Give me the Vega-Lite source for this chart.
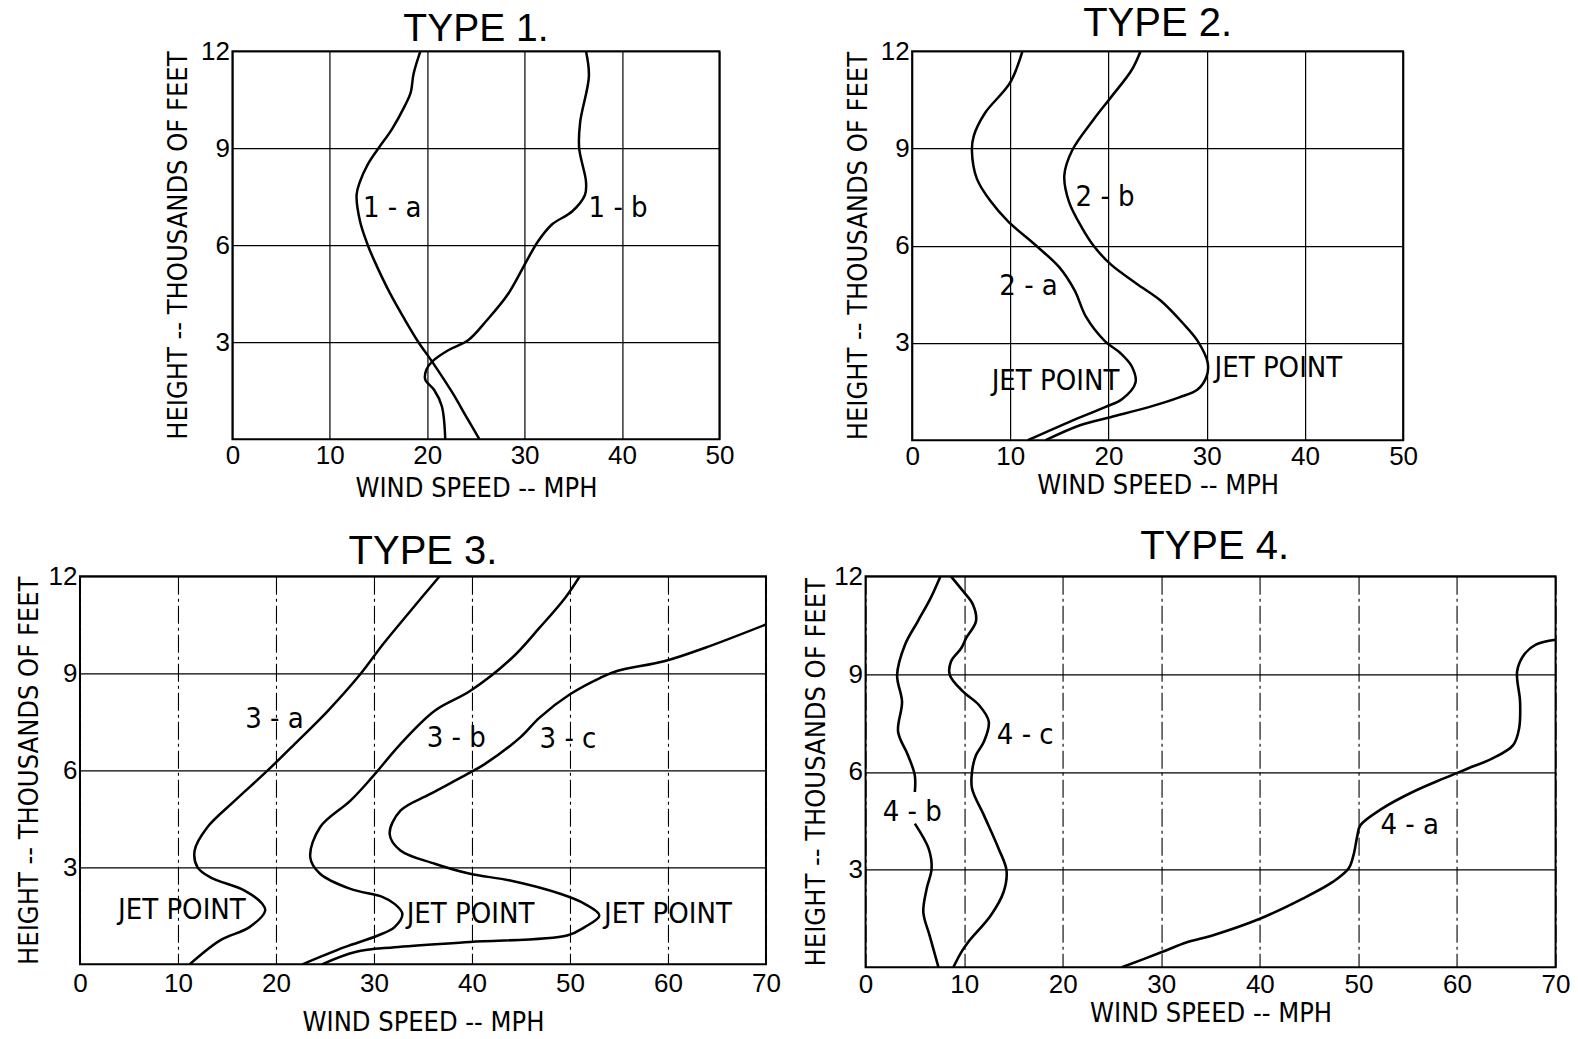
{
"$schema":"https://vega.github.io/schema/vega-lite/v6.json",
"background":"white",
"padding":{"left":13.5,"top":3.2,"right":5,"bottom":0},
"center":true,
"spacing":22.1,
"datasets":{
"curves":[
{"panel":1,"curve":"1-a","height":0,"speed":25.35},{"panel":1,"curve":"1-a","height":0.7,"speed":24.0},{"panel":1,"curve":"1-a","height":1.43,"speed":22.6},{"panel":1,"curve":"1-a","height":2.4,"speed":20.5},{"panel":1,"curve":"1-a","height":3,"speed":19.1},{"panel":1,"curve":"1-a","height":3.75,"speed":17.6},{"panel":1,"curve":"1-a","height":4.5,"speed":16.2},{"panel":1,"curve":"1-a","height":5.5,"speed":14.6},{"panel":1,"curve":"1-a","height":6,"speed":13.9},{"panel":1,"curve":"1-a","height":6.74,"speed":13.1},{"panel":1,"curve":"1-a","height":7.56,"speed":12.75},{"panel":1,"curve":"1-a","height":7.97,"speed":13.1},{"panel":1,"curve":"1-a","height":8.5,"speed":13.9},{"panel":1,"curve":"1-a","height":9,"speed":15.0},{"panel":1,"curve":"1-a","height":9.6,"speed":16.4},{"panel":1,"curve":"1-a","height":10.31,"speed":17.7},{"panel":1,"curve":"1-a","height":10.72,"speed":18.3},{"panel":1,"curve":"1-a","height":11.3,"speed":18.6},{"panel":1,"curve":"1-a","height":12,"speed":19.3},
{"panel":1,"curve":"1-b","height":0,"speed":21.85},{"panel":1,"curve":"1-b","height":1.02,"speed":21.5},{"panel":1,"curve":"1-b","height":1.53,"speed":20.7},{"panel":1,"curve":"1-b","height":1.84,"speed":19.8},{"panel":1,"curve":"1-b","height":2.14,"speed":19.9},{"panel":1,"curve":"1-b","height":2.4,"speed":20.5},{"panel":1,"curve":"1-b","height":2.76,"speed":22.2},{"panel":1,"curve":"1-b","height":3.06,"speed":24.2},{"panel":1,"curve":"1-b","height":3.67,"speed":26.1},{"panel":1,"curve":"1-b","height":4.49,"speed":28.3},{"panel":1,"curve":"1-b","height":5.51,"speed":30.2},{"panel":1,"curve":"1-b","height":6.13,"speed":31.4},{"panel":1,"curve":"1-b","height":6.64,"speed":32.8},{"panel":1,"curve":"1-b","height":7.05,"speed":34.9},{"panel":1,"curve":"1-b","height":7.56,"speed":36.2},{"panel":1,"curve":"1-b","height":7.97,"speed":36.3},{"panel":1,"curve":"1-b","height":9,"speed":35.6},{"panel":1,"curve":"1-b","height":9.8,"speed":35.7},{"panel":1,"curve":"1-b","height":11.23,"speed":36.6},{"panel":1,"curve":"1-b","height":12,"speed":36.3},
{"panel":2,"curve":"2-a","height":0,"speed":11.78},{"panel":2,"curve":"2-a","height":0.56,"speed":15.97},{"panel":2,"curve":"2-a","height":1.02,"speed":19.65},{"panel":2,"curve":"2-a","height":1.27,"speed":21.4},{"panel":2,"curve":"2-a","height":1.78,"speed":22.75},{"panel":2,"curve":"2-a","height":2.28,"speed":22.36},{"panel":2,"curve":"2-a","height":2.69,"speed":21.2},{"panel":2,"curve":"2-a","height":3.05,"speed":19.65},{"panel":2,"curve":"2-a","height":3.81,"speed":17.7},{"panel":2,"curve":"2-a","height":4.62,"speed":16.55},{"panel":2,"curve":"2-a","height":5.33,"speed":15.0},{"panel":2,"curve":"2-a","height":5.99,"speed":12.67},{"panel":2,"curve":"2-a","height":6.75,"speed":9.77},{"panel":2,"curve":"2-a","height":7.36,"speed":8.02},{"panel":2,"curve":"2-a","height":8.07,"speed":6.59},{"panel":2,"curve":"2-a","height":8.93,"speed":6.09},{"panel":2,"curve":"2-a","height":9.39,"speed":6.28},{"panel":2,"curve":"2-a","height":10.1,"speed":7.44},{"panel":2,"curve":"2-a","height":11.02,"speed":9.96},{"panel":2,"curve":"2-a","height":12,"speed":11.24},
{"panel":2,"curve":"2-b","height":0,"speed":13.6},{"panel":2,"curve":"2-b","height":0.46,"speed":17.1},{"panel":2,"curve":"2-b","height":0.71,"speed":20.2},{"panel":2,"curve":"2-b","height":1.02,"speed":24.1},{"panel":2,"curve":"2-b","height":1.32,"speed":27.2},{"panel":2,"curve":"2-b","height":1.57,"speed":29.1},{"panel":2,"curve":"2-b","height":1.98,"speed":30.0},{"panel":2,"curve":"2-b","height":2.39,"speed":30.1},{"panel":2,"curve":"2-b","height":3.05,"speed":29.1},{"panel":2,"curve":"2-b","height":3.6,"speed":27.6},{"panel":2,"curve":"2-b","height":4.31,"speed":25.3},{"panel":2,"curve":"2-b","height":4.82,"speed":22.9},{"panel":2,"curve":"2-b","height":5.43,"speed":20.2},{"panel":2,"curve":"2-b","height":5.99,"speed":18.5},{"panel":2,"curve":"2-b","height":6.55,"speed":17.3},{"panel":2,"curve":"2-b","height":7.36,"speed":15.97},{"panel":2,"curve":"2-b","height":8.17,"speed":15.5},{"panel":2,"curve":"2-b","height":8.93,"speed":16.28},{"panel":2,"curve":"2-b","height":9.9,"speed":18.5},{"panel":2,"curve":"2-b","height":10.56,"speed":20.2},{"panel":2,"curve":"2-b","height":11.42,"speed":22.36},{"panel":2,"curve":"2-b","height":12,"speed":23.26},
{"panel":3,"curve":"3-a","height":0,"speed":11.2},{"panel":3,"curve":"3-a","height":0.74,"speed":14.3},{"panel":3,"curve":"3-a","height":1.15,"speed":17.3},{"panel":3,"curve":"3-a","height":1.66,"speed":18.9},{"panel":3,"curve":"3-a","height":1.87,"speed":18.6},{"panel":3,"curve":"3-a","height":2.28,"speed":16.8},{"panel":3,"curve":"3-a","height":2.69,"speed":13.3},{"panel":3,"curve":"3-a","height":3.0,"speed":12.0},{"panel":3,"curve":"3-a","height":3.52,"speed":11.7},{"panel":3,"curve":"3-a","height":4.24,"speed":13.0},{"panel":3,"curve":"3-a","height":5.06,"speed":15.8},{"panel":3,"curve":"3-a","height":5.98,"speed":19.1},{"panel":3,"curve":"3-a","height":6.81,"speed":21.9},{"panel":3,"curve":"3-a","height":7.84,"speed":25.3},{"panel":3,"curve":"3-a","height":8.97,"speed":28.6},{"panel":3,"curve":"3-a","height":9.89,"speed":30.9},{"panel":3,"curve":"3-a","height":10.92,"speed":33.7},{"panel":3,"curve":"3-a","height":12,"speed":36.7},
{"panel":3,"curve":"3-b","height":0,"speed":22.7},{"panel":3,"curve":"3-b","height":0.53,"speed":27.0},{"panel":3,"curve":"3-b","height":0.89,"speed":30.4},{"panel":3,"curve":"3-b","height":1.15,"speed":32.1},{"panel":3,"curve":"3-b","height":1.56,"speed":32.9},{"panel":3,"curve":"3-b","height":1.87,"speed":32.1},{"panel":3,"curve":"3-b","height":2.08,"speed":30.9},{"panel":3,"curve":"3-b","height":2.33,"speed":27.6},{"panel":3,"curve":"3-b","height":2.8,"speed":24.5},{"panel":3,"curve":"3-b","height":3.31,"speed":23.5},{"panel":3,"curve":"3-b","height":4.24,"speed":24.5},{"panel":3,"curve":"3-b","height":5.06,"speed":27.6},{"panel":3,"curve":"3-b","height":5.78,"speed":29.8},{"panel":3,"curve":"3-b","height":6.81,"speed":32.7},{"panel":3,"curve":"3-b","height":7.84,"speed":36.2},{"panel":3,"curve":"3-b","height":8.45,"speed":39.8},{"panel":3,"curve":"3-b","height":9.48,"speed":44.1},{"panel":3,"curve":"3-b","height":10.41,"speed":46.9},{"panel":3,"curve":"3-b","height":11.33,"speed":49.5},{"panel":3,"curve":"3-b","height":12,"speed":51.0},
{"panel":3,"curve":"3-c","height":0,"speed":24.7},{"panel":3,"curve":"3-c","height":0.38,"speed":28.1},{"panel":3,"curve":"3-c","height":0.53,"speed":32.1},{"panel":3,"curve":"3-c","height":0.69,"speed":39.8},{"panel":3,"curve":"3-c","height":0.89,"speed":49.7},{"panel":3,"curve":"3-c","height":1.15,"speed":51.5},{"panel":3,"curve":"3-c","height":1.51,"speed":53.0},{"panel":3,"curve":"3-c","height":1.87,"speed":51.5},{"panel":3,"curve":"3-c","height":2.18,"speed":49.0},{"panel":3,"curve":"3-c","height":2.59,"speed":43.9},{"panel":3,"curve":"3-c","height":2.8,"speed":39.8},{"panel":3,"curve":"3-c","height":3.11,"speed":36.2},{"panel":3,"curve":"3-c","height":3.52,"speed":32.7},{"panel":3,"curve":"3-c","height":4.03,"speed":31.6},{"panel":3,"curve":"3-c","height":4.75,"speed":32.7},{"panel":3,"curve":"3-c","height":5.26,"speed":35.7},{"panel":3,"curve":"3-c","height":5.88,"speed":39.5},{"panel":3,"curve":"3-c","height":6.19,"speed":41.3},{"panel":3,"curve":"3-c","height":7.01,"speed":44.9},{"panel":3,"curve":"3-c","height":7.63,"speed":46.9},{"panel":3,"curve":"3-c","height":8.35,"speed":50.0},{"panel":3,"curve":"3-c","height":8.86,"speed":53.1},{"panel":3,"curve":"3-c","height":9.07,"speed":54.8},{"panel":3,"curve":"3-c","height":9.38,"speed":59.7},{"panel":3,"curve":"3-c","height":9.79,"speed":63.8},{"panel":3,"curve":"3-c","height":10.51,"speed":70.0},
{"panel":4,"curve":"4-a","height":0,"speed":26.0},{"panel":4,"curve":"4-a","height":0.46,"speed":30.0},{"panel":4,"curve":"4-a","height":0.77,"speed":32.6},{"panel":4,"curve":"4-a","height":0.97,"speed":35.1},{"panel":4,"curve":"4-a","height":1.49,"speed":40.0},{"panel":4,"curve":"4-a","height":2.1,"speed":44.3},{"panel":4,"curve":"4-a","height":2.62,"speed":47.4},{"panel":4,"curve":"4-a","height":3.03,"speed":49.0},{"panel":4,"curve":"4-a","height":3.44,"speed":49.5},{"panel":4,"curve":"4-a","height":4.05,"speed":49.9},{"panel":4,"curve":"4-a","height":4.36,"speed":50.2},{"panel":4,"curve":"4-a","height":4.87,"speed":52.4},{"panel":4,"curve":"4-a","height":5.38,"speed":55.5},{"panel":4,"curve":"4-a","height":5.79,"speed":58.6},{"panel":4,"curve":"4-a","height":6.1,"speed":61.1},{"panel":4,"curve":"4-a","height":6.41,"speed":63.6},{"panel":4,"curve":"4-a","height":6.82,"speed":65.7},{"panel":4,"curve":"4-a","height":7.33,"speed":66.3},{"panel":4,"curve":"4-a","height":8.15,"speed":66.4},{"panel":4,"curve":"4-a","height":9.08,"speed":66.1},{"panel":4,"curve":"4-a","height":9.59,"speed":66.8},{"panel":4,"curve":"4-a","height":9.9,"speed":68.0},{"panel":4,"curve":"4-a","height":10.05,"speed":70.0},
{"panel":4,"curve":"4-b upper","height":5.38,"speed":5.0},{"panel":4,"curve":"4-b upper","height":5.9,"speed":4.99},{"panel":4,"curve":"4-b upper","height":6.51,"speed":4.3},{"panel":4,"curve":"4-b upper","height":7.23,"speed":3.3},{"panel":4,"curve":"4-b upper","height":8.15,"speed":3.7},{"panel":4,"curve":"4-b upper","height":8.97,"speed":3.2},{"panel":4,"curve":"4-b upper","height":9.9,"speed":4.0},{"panel":4,"curve":"4-b upper","height":10.62,"speed":5.3},{"panel":4,"curve":"4-b upper","height":11.33,"speed":6.6},{"panel":4,"curve":"4-b upper","height":12,"speed":7.6},
{"panel":4,"curve":"4-b lower","height":0,"speed":7.4},{"panel":4,"curve":"4-b lower","height":0.97,"speed":6.5},{"panel":4,"curve":"4-b lower","height":1.69,"speed":5.86},{"panel":4,"curve":"4-b lower","height":2.41,"speed":6.2},{"panel":4,"curve":"4-b lower","height":3.03,"speed":6.7},{"panel":4,"curve":"4-b lower","height":3.64,"speed":6.4},{"panel":4,"curve":"4-b lower","height":4.41,"speed":5.0},
{"panel":4,"curve":"4-c","height":0,"speed":8.9},{"panel":4,"curve":"4-c","height":0.46,"speed":9.7},{"panel":4,"curve":"4-c","height":0.77,"speed":10.4},{"panel":4,"curve":"4-c","height":1.59,"speed":12.7},{"panel":4,"curve":"4-c","height":2.31,"speed":14.0},{"panel":4,"curve":"4-c","height":2.97,"speed":14.3},{"panel":4,"curve":"4-c","height":3.64,"speed":13.5},{"panel":4,"curve":"4-c","height":4.67,"speed":12.0},{"panel":4,"curve":"4-c","height":5.49,"speed":10.8},{"panel":4,"curve":"4-c","height":6.0,"speed":10.8},{"panel":4,"curve":"4-c","height":6.51,"speed":11.2},{"panel":4,"curve":"4-c","height":6.92,"speed":12.0},{"panel":4,"curve":"4-c","height":7.54,"speed":12.5},{"panel":4,"curve":"4-c","height":8.05,"speed":11.5},{"panel":4,"curve":"4-c","height":8.46,"speed":9.9},{"panel":4,"curve":"4-c","height":8.97,"speed":8.55},{"panel":4,"curve":"4-c","height":9.38,"speed":8.66},{"panel":4,"curve":"4-c","height":9.79,"speed":9.7},{"panel":4,"curve":"4-c","height":10.1,"speed":10.2},{"panel":4,"curve":"4-c","height":10.62,"speed":11.2},{"panel":4,"curve":"4-c","height":11.13,"speed":10.9},{"panel":4,"curve":"4-c","height":11.54,"speed":9.9},{"panel":4,"curve":"4-c","height":12,"speed":8.66}
],
"labels":[
{"panel":1,"label":"1 - a","speed":16.4,"height":7.15},{"panel":1,"label":"1 - b","speed":39.6,"height":7.15},
{"panel":2,"label":"2 - b","speed":19.65,"height":7.51},{"panel":2,"label":"2 - a","speed":11.86,"height":4.77},{"panel":2,"label":"JET POINT","speed":14.6,"height":1.83},{"panel":2,"label":"JET POINT","speed":37.3,"height":2.23},
{"panel":3,"label":"3 - a","speed":19.85,"height":7.58},{"panel":3,"label":"3 - b","speed":38.4,"height":7.01},{"panel":3,"label":"3 - c","speed":49.8,"height":6.96},{"panel":3,"label":"JET POINT","speed":10.4,"height":1.67},{"panel":3,"label":"JET POINT","speed":39.85,"height":1.54},{"panel":3,"label":"JET POINT","speed":60.0,"height":1.54},
{"panel":4,"label":"4 - c","speed":16.2,"height":7.13},{"panel":4,"label":"4 - b","speed":4.74,"height":4.77},{"panel":4,"label":"4 - a","speed":55.2,"height":4.36}
]
},
"vconcat":[
{"concat":[
{"width":487,"height":388,
"title":{"text":"TYPE 1.","fontSize":39,"offset":-11.1},
"encoding":{
"x":{"field":"speed","type":"quantitative","scale":{"domain":[0,50],"nice":false,"zero":false},"axis":{"values":[0,10,20,30,40,50],"title":"WIND SPEED -- MPH","titlePadding":7.5}},
"y":{"field":"height","type":"quantitative","scale":{"domain":[0,12],"nice":false},"axis":{"values":[3,6,9,12],"title":"HEIGHT -- THOUSANDS OF FEET","titlePadding":14}}},
"layer":[
{"data":{"name":"curves"},"transform":[{"filter":"datum.panel == 1"}],"mark":{"type":"line","interpolate":"catmull-rom","color":"black","strokeWidth":2.5},"encoding":{"detail":{"field":"curve"},"order":{"field":"height"}}},
{"data":{"name":"labels"},"transform":[{"filter":"datum.panel == 1"}],"mark":{"type":"text"},"encoding":{"text":{"field":"label"}}}
]},
{"width":491,"height":389,
"title":{"text":"TYPE 2.","fontSize":40,"offset":-6},
"encoding":{
"x":{"field":"speed","type":"quantitative","scale":{"domain":[0,50],"nice":false,"zero":false},"axis":{"values":[0,10,20,30,40,50],"title":"WIND SPEED -- MPH","titlePadding":3}},
"y":{"field":"height","type":"quantitative","scale":{"domain":[0,12],"nice":false},"axis":{"values":[3,6,9,12],"title":"HEIGHT -- THOUSANDS OF FEET","titlePadding":14}}},
"layer":[
{"data":{"name":"curves"},"transform":[{"filter":"datum.panel == 2"}],"mark":{"type":"line","interpolate":"catmull-rom","color":"black","strokeWidth":2.5},"encoding":{"detail":{"field":"curve"},"order":{"field":"height"}}},
{"data":{"name":"labels"},"transform":[{"filter":"datum.panel == 2"}],"mark":{"type":"text"},"encoding":{"text":{"field":"label"}}}
]}
],"columns":2,"align":"none","spacing":107.7},
{"concat":[
{"width":686,"height":388,
"title":{"text":"TYPE 3.","fontSize":40,"offset":-8.9},
"encoding":{
"x":{"field":"speed","type":"quantitative","scale":{"domain":[0,70],"nice":false,"zero":false},"axis":{"values":[0,10,20,30,40,50,60,70],"title":"WIND SPEED -- MPH","titlePadding":13,"labelPadding":6,"gridDash":[18,4,3,4],"gridWidth":1.1}},
"y":{"field":"height","type":"quantitative","scale":{"domain":[0,12],"nice":false},"axis":{"values":[3,6,9,12],"title":"HEIGHT -- THOUSANDS OF FEET","titlePadding":11}}},
"layer":[
{"data":{"name":"curves"},"transform":[{"filter":"datum.panel == 3"}],"mark":{"type":"line","interpolate":"catmull-rom","color":"black","strokeWidth":2.5,"clip":true},"encoding":{"detail":{"field":"curve"},"order":{"field":"height"}}},
{"data":{"name":"labels"},"transform":[{"filter":"datum.panel == 3"}],"mark":{"type":"text"},"encoding":{"text":{"field":"label"}}}
]},
{"width":690,"height":391,
"title":{"text":"TYPE 4.","fontSize":40,"offset":-3.8,"dx":4},
"encoding":{
"x":{"field":"speed","type":"quantitative","scale":{"domain":[0,70],"nice":false,"zero":false},"axis":{"values":[0,10,20,30,40,50,60,70],"title":"WIND SPEED -- MPH","titlePadding":3.5,"labelPadding":4,"gridDash":[18,4,3,4],"gridWidth":1.1}},
"y":{"field":"height","type":"quantitative","scale":{"domain":[0,12],"nice":false},"axis":{"values":[3,6,9,12],"title":"HEIGHT -- THOUSANDS OF FEET","titlePadding":9}}},
"layer":[
{"data":{"name":"curves"},"transform":[{"filter":"datum.panel == 4"}],"mark":{"type":"line","interpolate":"catmull-rom","color":"black","strokeWidth":2.6,"clip":true},"encoding":{"detail":{"field":"curve"},"order":{"field":"height"}}},
{"data":{"name":"labels"},"transform":[{"filter":"datum.panel == 4"}],"mark":{"type":"text"},"encoding":{"text":{"field":"label"}}}
]}
],"columns":2,"align":"none","spacing":19.6}
],
"config":{
"view":{"stroke":"black","strokeWidth":2},
"title":{"font":"Liberation Sans","fontWeight":"normal","color":"black","baseline":"alphabetic","frame":"group","anchor":"middle"},
"text":{"font":"DejaVu Sans Condensed, DejaVu Sans, sans-serif","fontSize":29,"color":"black","align":"center","baseline":"middle"},
"axis":{"domain":false,"ticks":false,"tickSize":0,"grid":true,"gridColor":"black","gridWidth":1.2,"gridOpacity":1,"labelFont":"Liberation Sans","labelFontSize":26,"labelColor":"black","labelPadding":3,"labelFlush":false,"labelOverlap":false,"labelBound":false,"titleFont":"DejaVu Sans Condensed, DejaVu Sans, sans-serif","titleFontSize":27,"titleFontWeight":"normal","titleColor":"black"},
"axisY":{"titleBaseline":"alphabetic"}
}
}
